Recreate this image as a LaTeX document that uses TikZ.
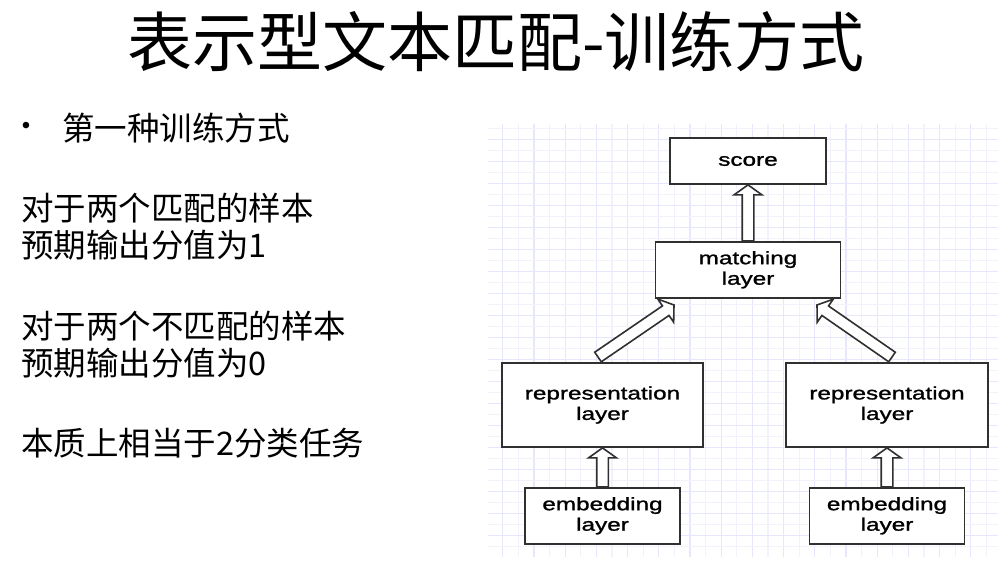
\documentclass[tikz,border=0pt]{standalone}
\usepackage{fontspec}
\setmainfont{Noto Sans CJK SC}
\newfontfamily\boxfont[FakeStretch=1.35, FakeBold=1.3]{Liberation Sans}
\newfontfamily\dotfont{Liberation Sans}
\usepackage{xcolor}
\usepackage{tikz}
\usetikzlibrary{positioning, calc}

\definecolor{gridmajor}{RGB}{230,230,252}
\definecolor{gridminor}{RGB}{242,242,253}
\definecolor{boxline}{RGB}{48,48,48}

% hollow block arrow from #1 (tail) to #2 (tip)
\newcommand{\fatarrow}[2]{%
  \coordinate (fa-base) at ($(#2)!10pt!(#1)$);
  \draw [hollow] ($(#1)!5.8pt!90:(#2)$) -- ($(fa-base)!5.8pt!90:(#2)$)
    -- ($(fa-base)!14pt!90:(#2)$) -- (#2) -- ($(fa-base)!14pt!-90:(#2)$)
    -- ($(fa-base)!5.8pt!-90:(#2)$) -- ($(#1)!5.8pt!-90:(#2)$) -- cycle;
}

\begin{document}
\begin{tikzpicture}[
  x=1pt, y=-1pt,
  title/.style={font=\fontsize{65}{70}\selectfont, inner sep=0pt},
  para/.style={font=\fontsize{32.5}{37}\selectfont, align=left, anchor=west, inner sep=0pt},
  layer/.style={rectangle, draw=boxline, line width=1.8pt, fill=white, align=center,
    font=\boxfont\fontsize{18}{20.5}\selectfont, inner sep=0pt},
  hollow/.style={draw=boxline, line width=1.6pt, fill=white, line join=miter}
]
  \useasboundingbox (0,0) rectangle (1007,565);

  % title and left text
  \node [title] (head) at (496,42) {表示型文本匹配-训练方式};
  \node [font=\dotfont\fontsize{24}{24}\selectfont, inner sep=0pt] (dot) at (26,128) {•};
  \node [para] (way) at (62,128) {第一种训练方式};
  \node [para] (pos) at (21,226.5) {对于两个匹配的样本\\预期输出分值为1};
  \node [para] (neg) at (21,344.5) {对于两个不匹配的样本\\预期输出分值为0};
  \node [para] (task) at (21,443) {本质上相当于2分类任务};

  % grid paper
  \foreach \i in {0,...,31} {
    \ifodd\i \def\gc{gridminor}\else\def\gc{gridmajor}\fi
    \draw [draw=\gc, line width=1.2pt] (502.7+15.6*\i,124) -- (502.7+15.6*\i,557);
  }
  \foreach \j in {0,...,38} {
    \ifodd\j \def\gc{gridmajor}\else\def\gc{gridminor}\fi
    \draw [draw=\gc, line width=1.2pt] (488,128.7+11*\j) -- (998,128.7+11*\j);
  }

  % layers
  \node [layer, minimum width=156pt, minimum height=46pt] (score) at (748,161) {score};
  \node [layer, minimum width=185pt, minimum height=56pt, below=56pt of score] (match) {matching\\layer};
  \node [layer, minimum width=201pt, minimum height=84pt] (rep1) at (602.5,405) {representation\\layer};
  \node [layer, minimum width=202pt, minimum height=84pt] (rep2) at (887,405) {representation\\layer};
  \node [layer, minimum width=155pt, minimum height=56pt, below=39pt of rep1] (emb1) {embedding\\layer};
  \node [layer, minimum width=155pt, minimum height=56pt, below=39pt of rep2] (emb2) {embedding\\layer};

  \coordinate (t1) at (598,357);
  \coordinate (h1) at (674,305);
  \coordinate (t2) at (892,357);
  \coordinate (h2) at (817,305);

  \fatarrow{emb1.north}{rep1.south}
  \fatarrow{emb2.north}{rep2.south}
  \fatarrow{t1}{h1}
  \fatarrow{t2}{h2}
  \fatarrow{match.north}{score.south}
\end{tikzpicture}
\end{document}
